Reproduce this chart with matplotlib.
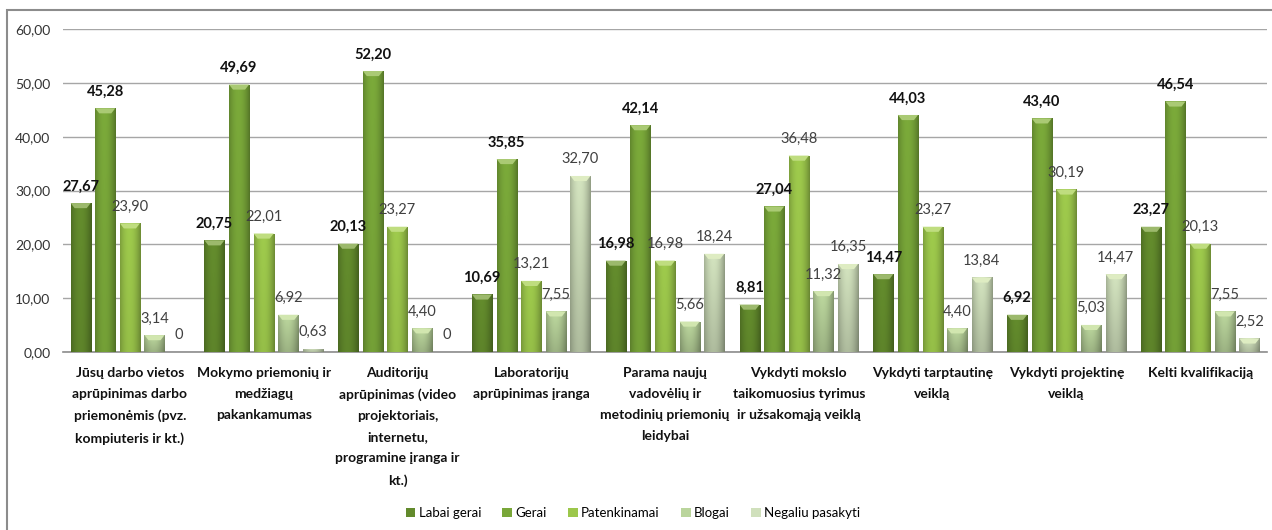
import numpy as np
import matplotlib
matplotlib.use("Agg")
import matplotlib.pyplot as plt
from matplotlib.patches import Rectangle
from matplotlib.colors import to_rgb

plt.rcParams['font.family'] = ['Lato', 'DejaVu Sans']

categories = [
    "Jūsų darbo vietos\naprūpinimas darbo\npriemonėmis (pvz.\nkompiuteris ir kt.)",
    "Mokymo priemonių ir\nmedžiagų\npakankamumas",
    "Auditorijų\naprūpinimas (video\nprojektoriais,\ninternetu,\nprogramine įranga ir\nkt.)",
    "Laboratorijų\naprūpinimas įranga",
    "Parama naujų\nvadovėlių ir\nmetodinių priemonių\nleidybai",
    "Vykdyti mokslo\ntaikomuosius tyrimus\nir užsakomąją veiklą",
    "Vykdyti tarptautinę\nveiklą",
    "Vykdyti projektinę\nveiklą",
    "Kelti kvalifikaciją",
]
series_names = ["Labai gerai", "Gerai", "Patenkinamai", "Blogai", "Negaliu pasakyti"]
labai_gerai = [27.67, 20.75, 20.13, 10.69, 16.98, 8.81, 14.47, 6.92, 23.27]
gerai = [45.28, 49.69, 52.20, 35.85, 42.14, 27.04, 44.03, 43.40, 46.54]
patenkinamai = [23.90, 22.01, 23.27, 13.21, 16.98, 36.48, 23.27, 30.19, 20.13]
blogai = [3.14, 6.92, 4.40, 7.55, 5.66, 11.32, 4.40, 5.03, 7.55]
negaliu = [0, 0.63, 0, 32.70, 18.24, 16.35, 13.84, 14.47, 2.52]
yticks = [0, 10, 20, 30, 40, 50, 60]

series = [labai_gerai, gerai, patenkinamai, blogai, negaliu]
colors = ["#628a2c", "#79a739", "#9cc74b", "#bad59c", "#d0e0bc"]
bold = [True, True, False, False, False]

fig = plt.figure(figsize=(12.72, 5.30), dpi=100)
fig.patches.append(Rectangle((7/1272, -0.2), 1.2, 1.2 - 10/530,
                             transform=fig.transFigure, fill=False,
                             edgecolor="#8c8c8c", linewidth=1.5))
ax = fig.add_axes([63/1272, 1 - 352/530, (1267 - 63)/1272, (352 - 29)/530])

x = np.arange(len(categories))
step = 0.184
width = 0.15

def fmt(v):
    return "0" if v == 0 else f"{v:.2f}".replace('.', ',')

for i, (vals, col) in enumerate(zip(series, colors)):
    bars = ax.bar(x + (i - 2) * step, vals, width, color=col,
                  edgecolor="none", label=series_names[i], zorder=3)
    base = np.array(to_rgb(col))
    for b, v in zip(bars, vals):
        if v <= 0:
            continue
        xs = np.linspace(0, 1, 24)
        prof = 1.0 - 0.25 * (np.abs(xs - 0.45) * 2) ** 2
        ys = np.linspace(0, 1, 40)[:, None]
        vert = 0.84 + 0.18 * ys if i >= 3 else 0.96 + 0.06 * ys
        img = np.clip(base[None, None, :] * (prof[None, :, None] * vert[:, :, None]), 0, 1)
        im = ax.imshow(img, extent=(b.get_x(), b.get_x() + b.get_width(), 0, b.get_height()),
                       origin='lower', aspect='auto', zorder=3.5, interpolation='bilinear')
        im.set_clip_path(b)
        capc = base + (np.array([0.95, 1.0, 0.8]) - base) * 0.4
        capc = np.clip(capc, 0, 1)
        ch = 0.95
        if v > ch:
            ax.fill([b.get_x(), b.get_x() + b.get_width(), b.get_x() + b.get_width() * 0.8,
                     b.get_x() + b.get_width() * 0.2],
                    [v, v, v - ch, v - ch], color=capc, zorder=4, lw=0)
    for xi, v in zip(x + (i - 2) * step, vals):
        ax.annotate(fmt(v), (xi, v), xytext=(0, 12), textcoords="offset points",
                    ha="center", va="center", fontsize=10.5,
                    fontweight="bold" if bold[i] else "normal",
                    color="#111111" if bold[i] else "#404040", zorder=6)

ax.set_xlim(-0.5, len(categories) - 0.5)
ax.set_ylim(0, 60)
ax.set_yticks(yticks)
ax.set_yticklabels([f"{t:.2f}".replace('.', ',') for t in yticks], fontsize=10, color="#333333")
ax.set_xticks(x)
ax.set_xticklabels(categories, fontsize=10, fontweight="bold", color="#111111", linespacing=1.9)
ax.tick_params(axis='both', length=0)
ax.tick_params(axis='y', pad=9)
ax.tick_params(axis='x', pad=11)
ax.grid(axis='y', color="#a6a6a6", linewidth=1, zorder=0)
for s in ["top", "right", "left"]:
    ax.spines[s].set_visible(False)
ax.spines["bottom"].set_color("#8c8c8c")
ax.spines["bottom"].set_linewidth(1.2)

fig.legend(loc="center", bbox_to_anchor=(633/1272, 1 - 513/530), ncol=5, frameon=False,
           fontsize=9.5, handlelength=0.75, handleheight=0.75, handletextpad=0.25,
           columnspacing=1.6)

fig.savefig("out.png", dpi=100)
